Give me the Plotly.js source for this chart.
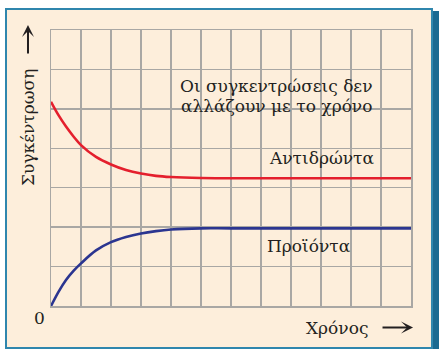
<!DOCTYPE html>
<html>
<head>
<meta charset="utf-8">
<script src="https://cdn.plot.ly/plotly-3.0.1.min.js"></script>
<style>
  html, body { margin: 0; padding: 0; background: #fff; }
  #plot { width: 439px; height: 349px; }
</style>
</head>
<body>
<div id="plot"></div>
<script>
// time steps (one grid column = one unit)
var time = [0, 0.25, 0.5, 0.75, 1, 1.5, 2, 2.5, 3, 3.5, 4, 5, 6, 12];
// reactants fall, products rise, both level off
var reactants = [5.18, 4.84, 4.55, 4.30, 4.08, 3.78, 3.59, 3.45, 3.36, 3.30, 3.27, 3.245, 3.24, 3.24];
var products  = [0, 0.36, 0.66, 0.89, 1.08, 1.41, 1.62, 1.75, 1.84, 1.90, 1.94, 1.97, 1.97, 1.97];

var labelFont = { family: "DejaVu Serif", size: 17, color: "#231f20" };

var reactTrace = {
  x: time, y: reactants, type: 'scatter', mode: 'lines',
  line: { color: '#e41f2d', width: 2.6, shape: 'spline', smoothing: 1, simplify: false },
  hoverinfo: 'skip'
};
var prodTrace = {
  x: time, y: products, type: 'scatter', mode: 'lines',
  line: { color: '#2b3590', width: 2.6, shape: 'spline', smoothing: 1, simplify: false },
  hoverinfo: 'skip'
};

var gridColor = '#a9a7a4';

var layout = {
  width: 439, height: 349,
  margin: { l: 51, r: 28, t: 30, b: 43 },
  paper_bgcolor: '#ffffff',
  plot_bgcolor: 'rgba(0,0,0,0)',
  showlegend: false,
  font: labelFont,
  xaxis: {
    range: [0, 12], dtick: 1, tick0: 0, showticklabels: false, ticks: '',
    showgrid: true, gridcolor: gridColor, gridwidth: 1.5,
    zeroline: false, showline: true, mirror: true, linecolor: gridColor, linewidth: 1.5,
    fixedrange: true
  },
  yaxis: {
    range: [0, 7], dtick: 1, tick0: 0, showticklabels: false, ticks: '',
    showgrid: true, gridcolor: gridColor, gridwidth: 1.5,
    zeroline: false, showline: true, mirror: true, linecolor: gridColor, linewidth: 1.5,
    fixedrange: true
  },
  shapes: [
    // dark shadow strip on the right
    { type: 'rect', xref: 'paper', yref: 'paper', layer: 'below',
      x0: 1.0611, x1: 1.09, y0: -0.18, y1: 1.0688,
      fillcolor: '#1b6a91', line: { width: 0 } },
    // cream panel
    { type: 'rect', xref: 'paper', yref: 'paper', layer: 'below',
      x0: -0.125, x1: 1.0583, y0: -0.1522, y1: 1.0761,
      fillcolor: '#fdeedb', line: { color: '#2f86ad', width: 2 } }
  ],
  annotations: [
    { text: 'Οι συγκεντρώσεις δεν', x: 7.5, y: 5.59, showarrow: false, font: labelFont },
    { text: 'αλλάζουν με το χρόνο', x: 7.5, y: 5.08, showarrow: false, font: labelFont },
    { text: 'Αντιδρώντα', x: 9.03, y: 3.75, showarrow: false, font: labelFont },
    { text: 'Προϊόντα', x: 8.6, y: 1.53, showarrow: false, font: labelFont },
    // labels outside the grid, placed in paper units
    { text: '0', xref: 'paper', yref: 'paper', x: -0.0306, y: -0.0417,
      xanchor: 'center', yanchor: 'middle', showarrow: false, font: labelFont },
    { text: 'Χρόνος', xref: 'paper', yref: 'paper', x: 0.7944, y: -0.0779,
      xanchor: 'center', yanchor: 'middle', showarrow: false, font: labelFont },
    { text: '', xref: 'paper', yref: 'paper', x: 1.0056, y: -0.0779, ax: -32, ay: 0, showarrow: true,
      arrowhead: 3, arrowsize: 1, arrowwidth: 2, arrowcolor: '#231f20' },
    { text: 'Συγκέντρωση', xref: 'paper', yref: 'paper', x: -0.0639, y: 0.6486, textangle: -90,
      xanchor: 'center', yanchor: 'middle', showarrow: false, font: labelFont },
    { text: '', xref: 'paper', yref: 'paper', x: -0.0639, y: 1.0181, ax: 0, ay: 30, showarrow: true,
      arrowhead: 3, arrowsize: 1, arrowwidth: 2, arrowcolor: '#231f20' }
  ]
};

Plotly.newPlot('plot', [reactTrace, prodTrace], layout, { displayModeBar: false, staticPlot: true });
</script>
</body>
</html>
